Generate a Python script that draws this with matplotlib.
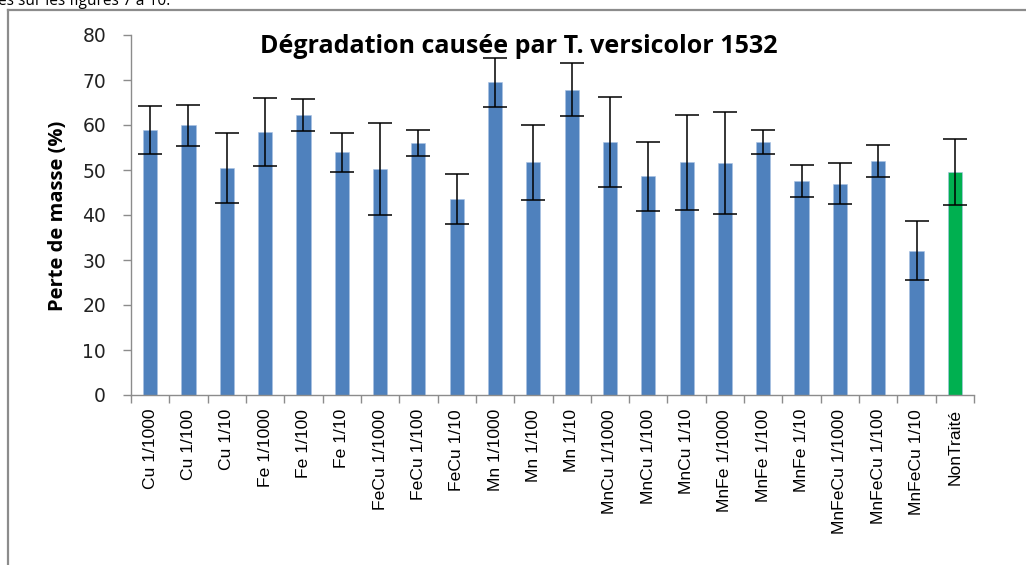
import matplotlib
matplotlib.use("Agg")
import matplotlib.pyplot as plt
from matplotlib.lines import Line2D
import numpy as np

categories = ["Cu 1/1000", "Cu 1/100", "Cu 1/10", "Fe 1/1000", "Fe 1/100", "Fe 1/10",
              "FeCu 1/1000", "FeCu 1/100", "FeCu 1/10", "Mn 1/1000", "Mn 1/100", "Mn 1/10",
              "MnCu 1/1000", "MnCu 1/100", "MnCu 1/10", "MnFe 1/1000", "MnFe 1/100", "MnFe 1/10",
              "MnFeCu 1/1000", "MnFeCu 1/100", "MnFeCu 1/10", "NonTraité"]
values = [58.9, 59.9, 50.5, 58.4, 62.2, 53.9, 50.2, 56.0, 43.6, 69.5, 51.7, 67.8,
          56.2, 48.6, 51.7, 51.5, 56.2, 47.6, 47.0, 51.9, 32.1, 49.5]
errors = [5.35, 4.65, 7.75, 7.5, 3.5, 4.3, 10.3, 2.9, 5.5, 5.45, 8.4, 5.9,
          10.0, 7.7, 10.55, 11.3, 2.75, 3.5, 4.6, 3.55, 6.55, 7.3]
yticks = [0, 10, 20, 30, 40, 50, 60, 70, 80]
title = "Dégradation causée par T. versicolor 1532"
ylabel = "Perte de masse (%)"

BLUE = "#4F81BD"
GREEN = "#00B050"
GRAY = "#8C8C8C"
colors = [BLUE] * (len(categories) - 1) + [GREEN]

W, H = 1026, 565
fig = plt.figure(figsize=(W / 100, H / 100), dpi=100)

left, right, bottom, top = 131, 974, 395, 35
ax = fig.add_axes([left / W, 1 - bottom / H, (right - left) / W, (bottom - top) / H])

x = np.arange(len(categories))
ax.bar(x, values, width=0.37, color=colors, edgecolor="#A9C1E3", linewidth=0.4, zorder=2)
ax.errorbar(x, values, yerr=errors, fmt="none", ecolor="black", elinewidth=1.1,
            capsize=8.5, capthick=1.1, zorder=3)

ax.set_xlim(-0.5, len(categories) - 0.5)
ax.set_ylim(0, 80)
ax.set_yticks(yticks)
ax.set_yticklabels([str(t) for t in yticks], fontsize=13.5, family="DejaVu Sans", color="#222222")

ax.set_xticks(x)
ax.set_xticklabels(categories, rotation=90, fontsize=12.6, family="Liberation Sans", va="top")
ax.set_xticks(np.arange(-0.5, len(categories), 1), minor=True)
ax.tick_params(axis="x", which="major", length=0, pad=10)
ax.tick_params(axis="x", which="minor", length=6, color=GRAY, width=1)
ax.tick_params(axis="y", length=6, color=GRAY, width=1, pad=12)

for s in ["top", "right"]:
    ax.spines[s].set_visible(False)
for s in ["left", "bottom"]:
    ax.spines[s].set_color(GRAY)
    ax.spines[s].set_linewidth(1)

fig.text(58 / W, 1 - 216 / H, ylabel, rotation=90, ha="center", va="center",
         fontsize=14.5, fontweight="bold", family="Open Sans")

fig.text(519 / W, 1 - 53 / H, title, ha="center", va="baseline", fontsize=18,
         fontweight="bold", family="Open Sans")

# outer frame of the embedded chart
fig.add_artist(Line2D([8 / W, 8 / W], [0, 1 - 10 / H], color=GRAY, linewidth=1.6,
                      transform=fig.transFigure))
fig.add_artist(Line2D([8 / W, 1], [1 - 10 / H, 1 - 10 / H], color=GRAY, linewidth=1.6,
                      transform=fig.transFigure))

# cropped document text above the chart
fig.text(-2 / W, 1 - 5 / H, "es sur les figures 7 à 10.", ha="left", va="baseline",
         fontsize=11.2, family="Open Sans")

fig.savefig("out.png", dpi=100)
